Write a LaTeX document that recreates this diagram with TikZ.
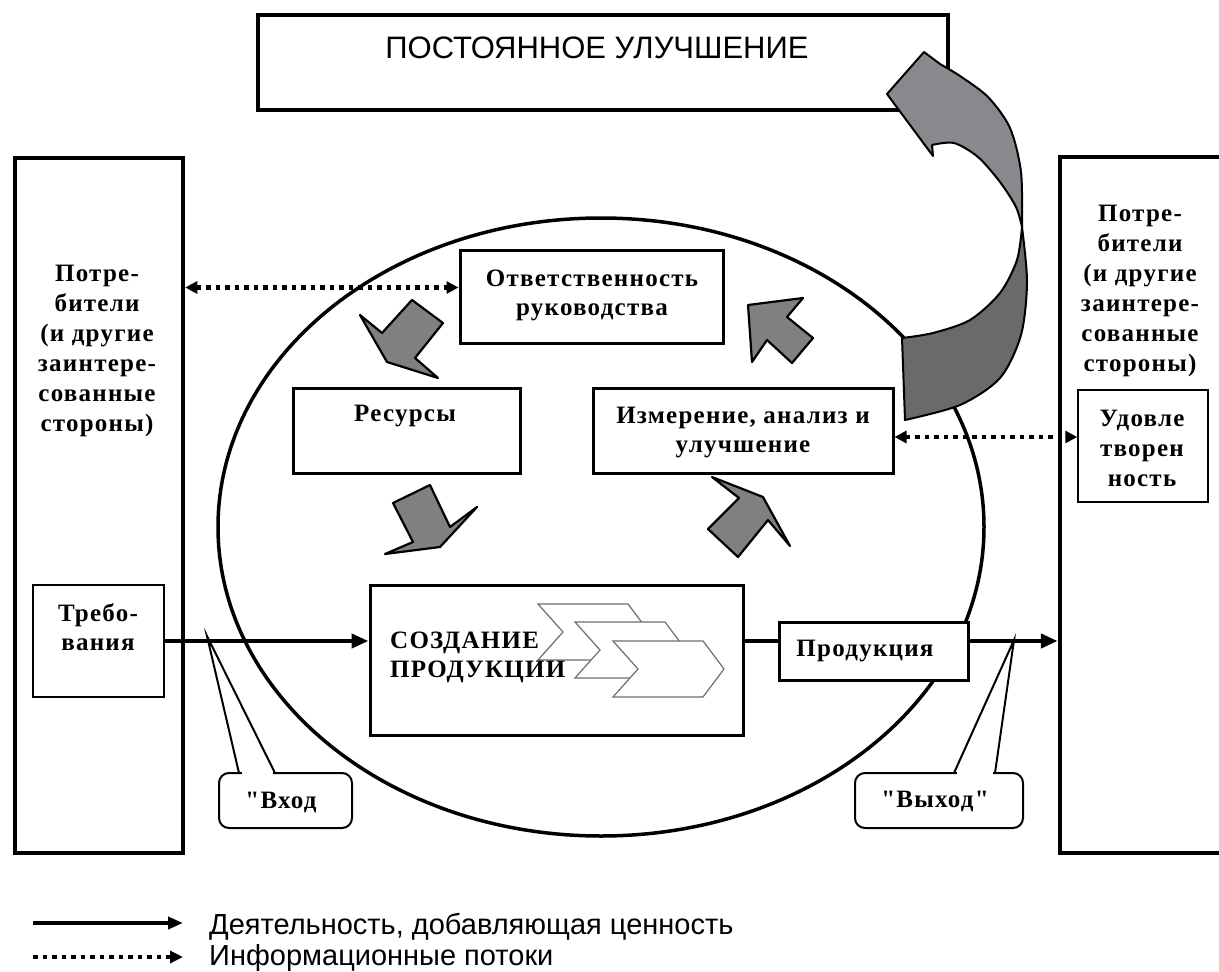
\documentclass[tikz,border=0pt]{standalone}
\usepackage{fontspec}
\setmainfont{Liberation Serif}
\newfontfamily\boxfont{Liberation Serif}[LetterSpace=5]
\newfontfamily\arialfont{Liberation Sans}
\usetikzlibrary{arrows.meta,shapes.geometric}
\definecolor{blockgray}{RGB}{128,128,128}
\definecolor{curvelight}{RGB}{138,136,140}
\definecolor{curvedark}{RGB}{106,106,106}
\definecolor{chevgray}{RGB}{110,110,110}
\newcommand\mychevron[2]{\draw[chev] (#1,#2) -- ++(90,0) -- ++(21,28) -- ++(-21,28) -- ++(-90,0) -- ++(25,-28) -- cycle;}
\begin{document}
\begin{tikzpicture}[x=1pt,y=-1pt,
  box/.style={draw, rectangle, fill=white, inner sep=0pt, line width=3pt},
  thickbox/.style={box, line width=4.5pt},
  thinbox/.style={box, line width=1.5pt},
  txt/.style={font={\boxfont\bfseries\fontsize{25}{29}\selectfont}, align=center, inner sep=0pt},
  wtxt/.style={txt, font={\boxfont\bfseries\fontsize{25}{30}\selectfont}},
  flow/.style={line width=4.5pt, -{Triangle[length=17pt,width=14pt]}},
  info/.style={line width=4.5pt, dash pattern=on 4.5pt off 5pt, {Triangle[length=12pt,width=12pt]}-{Triangle[length=12pt,width=12pt]}},
  blockarrow/.style={fill=blockgray, draw=black, line width=2.2pt, line join=round},
  callout/.style={draw, line width=2pt, line cap=round},
  chev/.style={draw=chevgray, fill=white, line width=1.2pt},
  curve/.style={draw=black, line width=2pt, line join=round},
]
\clip (0,0) rectangle (1219,972);
\fill[white] (0,0) rectangle (1219,972);

% ellipse
\node[draw, ellipse, line width=3.5pt, minimum width=766pt, minimum height=618pt, inner sep=0pt] (cyc) at (601,527) {};

% big boxes
\node[thickbox, minimum width=690pt, minimum height=95pt] (top) at (603,62.5) {};
\node[thickbox, minimum width=168pt, minimum height=695pt] (lbox) at (99,505.5) {};
\node[thickbox, minimum width=240pt, minimum height=696pt] (rbox) at (1180,505) {};
\node[thinbox, minimum width=131pt, minimum height=112pt] (req) at (98.5,641) {};
\node[thinbox, minimum width=130pt, minimum height=112pt] (ud) at (1143,446) {};

% inner boxes
\node[box, minimum width=263pt, minimum height=93pt] (resp) at (591.5,296.5) {};
\node[box, minimum width=227pt, minimum height=85pt] (res) at (406.5,430.5) {};
\node[box, minimum width=300pt, minimum height=85pt] (meas) at (743,430.5) {};
\node[box, minimum width=373pt, minimum height=150pt] (create) at (556.5,660) {};
\node[box, minimum width=189pt, minimum height=58pt] (prod) at (873.5,651) {};

% chevrons
\mychevron{538}{604}
\mychevron{575}{622}
\mychevron{613}{641}

% texts
\node[font={\arialfont\fontsize{31}{36}\selectfont}, inner sep=0pt] (toptxt) at (597,48) {ПОСТОЯННОЕ УЛУЧШЕНИЕ};
\node[wtxt] (ltxt) at (97,351) {Потре-\\бители\\(и другие\\заинтере-\\сованные\\стороны)};
\node[wtxt] (rtxt) at (1140,291) {Потре-\\бители\\(и другие\\заинтере-\\сованные\\стороны)};
\node[wtxt] (udtxt) at (1142,448) {Удовле\\творен\\ность};
\node[txt] (reqtxt) at (98,627) {Требо-\\вания};
\node[txt] (resptxt) at (592,295) {Ответственность\\руководства};
\node[txt] (restxt) at (405,416) {Ресурсы};
\node[txt] (meastxt) at (743,433) {Измерение, анализ и\\улучшение};
\node[txt, align=left, anchor=west] (createtxt) at (390,657) {СОЗДАНИЕ\\ПРОДУКЦИИ};
\node[txt] (prodtxt) at (865,651) {Продукция};

% main flow
\draw[flow] (req.east) -- (req.east -| create.west);
\draw[line width=4.5pt] (create.east |- req.east) -- (prod.west |- req.east);
\draw[flow] (prod.east |- req.east) -- (rbox.west |- req.east);

% information flows
\coordinate (dl) at ([yshift=9pt]resp.west);
\draw[info] (dl -| lbox.east) -- (dl);
\coordinate (dr) at ([yshift=-6.5pt]meas.east);
\draw[info] (dr) -- (dr -| ud.west);

% block arrows
\filldraw[blockarrow] (360,315) -- (382,333) -- (412,300) -- (443,323) -- (415,358) -- (438,378) -- (387,362) -- cycle;
\filldraw[blockarrow] (393,503) -- (430,485) -- (450,527) -- (477,507) -- (440,547) -- (385,554) -- (413,542) -- cycle;
\filldraw[blockarrow] (712,477) -- (763,497) -- (790,546) -- (768,520) -- (738,557) -- (708,529) -- (739,498) -- cycle;
\filldraw[blockarrow] (748,305) -- (803,298) -- (787,317) -- (813,338) -- (792,363) -- (767,340) -- (752,362) -- cycle;

% curved arrow
\filldraw[curve, fill=curvedark] (905,420) -- (902,338)
  -- plot[smooth] coordinates {(902,338) (933,333) (970,320) (1000,293) (1017,260) (1022,227)}
  -- plot[smooth] coordinates {(1022,227) (1027,282) (1021,335) (1000,378) (960,405) (905,420)} -- cycle;
\filldraw[curve, fill=curvelight] (1022,227)
  -- plot[smooth] coordinates {(1022,227) (1021,172) (1010,128) (988,97) (960,76) (940,64)}
  -- (924,52) -- (887,94) -- (933,156) -- (932,145)
  -- plot[smooth] coordinates {(932,145) (954,143) (978,157) (1000,182) (1016,207) (1022,227)} -- cycle;

% callouts
\node[callout, rounded corners=10pt, fill=white, minimum width=133pt, minimum height=55pt, inner sep=0pt] (inbox) at (285.5,800.5) {};
\node[txt] (intxt) at (281,802) {"Вход};
\coordinate (intip) at (207,636);
\fill[white] (241.5,771) rectangle (272.5,775);
\draw[callout] (239,773) -- (intip) -- (275,773);

\node[callout, rounded corners=10pt, fill=white, minimum width=168pt, minimum height=55pt, inner sep=0pt] (outbox) at (939,800.5) {};
\node[txt] (outtxt) at (935,801) {"Выход"};
\coordinate (outtip) at (1014,640);
\fill[white] (956.5,771) rectangle (992.5,775);
\draw[callout] (954,773) -- (outtip) -- (995,773);

% legend
\coordinate (l1a) at (33,923);
\coordinate (l1b) at (183,923);
\draw[line width=4pt, -{Triangle[length=15pt,width=12pt]}] (l1a) -- (l1b);
\coordinate (l2a) at (33,957);
\coordinate (l2b) at (183,957);
\draw[line width=4.5pt, dash pattern=on 4.5pt off 5pt, -{Triangle[length=13pt,width=12pt]}] (l2a) -- (l2b);
\node[anchor=base west, font={\arialfont\fontsize{29}{31}\selectfont}, inner sep=0pt] (leg1) at (209,934) {Деятельность, добавляющая ценность};
\node[anchor=base west, font={\arialfont\fontsize{29}{31}\selectfont}, inner sep=0pt] (leg2) at (209,965) {Информационные потоки};
\end{tikzpicture}
\end{document}
